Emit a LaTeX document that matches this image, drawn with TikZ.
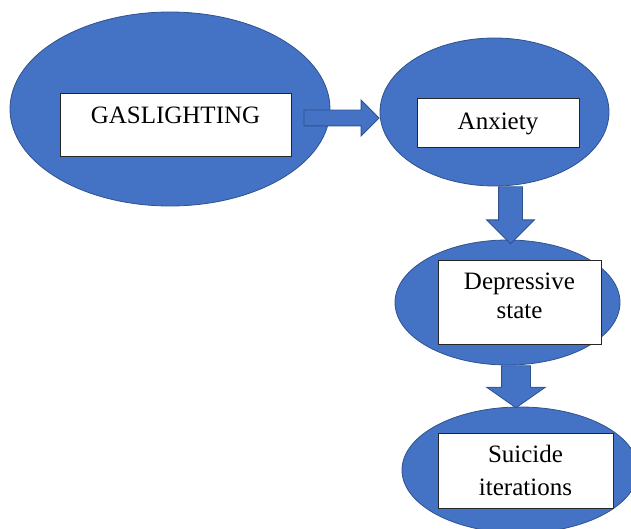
\documentclass[tikz,border=0pt]{standalone}
\usepackage{fontspec}
\setmainfont{Liberation Serif}
\usetikzlibrary{shapes.geometric,shapes.arrows}
\definecolor{ofblue}{HTML}{4472C4}
\definecolor{ofedge}{HTML}{2F528F}
\begin{document}
\begin{tikzpicture}[x=1pt,y=-1pt,
  oval/.style={ellipse, fill=ofblue, draw=ofedge, line width=0.8pt, inner sep=0pt},
  textbox/.style={rectangle, fill=white, draw=black!85, line width=0.9pt, inner sep=0pt,
    font=\fontsize{25}{29}\selectfont},
  blockarrow/.style={single arrow, fill=ofblue, draw=ofedge, line width=0.8pt, inner xsep=0pt,
    single arrow tip angle=90}]
\useasboundingbox (0,0) rectangle (631,529);
% ovals
\node[oval, minimum width=320pt, minimum height=194pt] (e1) at (170,109) {};
\node[oval, minimum width=229pt, minimum height=148pt] (e2) at (494.5,112) {};
\node[oval, minimum width=225pt, minimum height=125pt] (e3) at (507.5,302.5) {};
\node[oval, minimum width=236pt, minimum height=126pt] (e4) at (520,470) {};
% block arrows
\node[blockarrow, minimum height=75pt, inner ysep=7.5pt,
  single arrow head extend=10pt, anchor=tip] (a1) at ([yshift=-6pt]e2.west) {};
\node[blockarrow, rotate=-90, minimum height=57pt, inner ysep=11.5pt,
  single arrow head extend=12pt, anchor=tail] (a2) at ([xshift=16pt]e2.south) {};
\node[blockarrow, rotate=-90, minimum height=42pt, inner ysep=14pt,
  single arrow head extend=15pt, single arrow tip angle=110, anchor=tail] (a3) at ([xshift=8.5pt]e3.south) {};
% text boxes
\node[textbox, minimum width=231pt, minimum height=63pt, text height=16pt, text depth=17pt]
  (b1) at (175.5,124.5) {GASLIGHTING};
\node[textbox, minimum width=162pt, minimum height=49pt, text height=17pt, text depth=2pt]
  (b2) at (498,122.5) {Anxiety};
\node[textbox, align=center, minimum width=163pt, minimum height=84pt]
  (b3) at (519.5,302) {Depressive\\state\rule[-13pt]{0pt}{0pt}};
\node[textbox, align=center, minimum width=175pt, minimum height=75pt]
  (b4) at (525.5,470.5) {Suicide\\[4pt]iterations};
\end{tikzpicture}
\end{document}
